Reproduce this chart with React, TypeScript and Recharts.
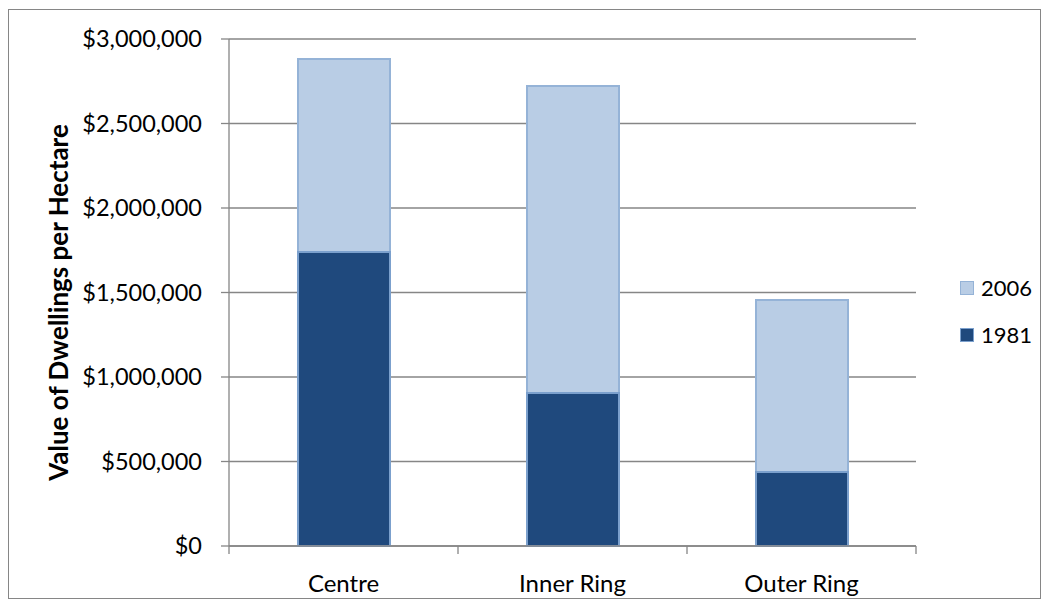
import React from 'react';
import { BarChart, Bar, XAxis, YAxis, CartesianGrid, Legend } from 'recharts';

const categories = ['Centre', 'Inner Ring', 'Outer Ring'];
const values2006 = [2882000, 2722000, 1456000];
const values1981 = [1740000, 905000, 438000];
const yTicks = [0, 500000, 1000000, 1500000, 2000000, 2500000, 3000000];

const data = categories.map((c, i) => ({ name: c, v2006: values2006[i], v1981: values1981[i] }));

const FONT = 'Lato, "Open Sans", sans-serif';
const GRID = '#868686';

const fmt = (v: number) => '$' + v.toLocaleString('en-US');

const LegendContent = () => (
  <div style={{ width: 80, fontFamily: FONT, fontSize: 22, color: '#000' }}>
    {[
      { label: '2006', fill: '#B9CDE5', stroke: '#95B3D7' },
      { label: '1981', fill: '#1F497D', stroke: '#7BA0CD' },
    ].map((it) => (
      <div key={it.label} style={{ display: 'flex', alignItems: 'center', height: 47 }}>
        <span
          style={{
            display: 'inline-block',
            width: 12,
            height: 12,
            background: it.fill,
            border: `1.5px solid ${it.stroke}`,
            marginRight: 7,
          }}
        />
        <span>{it.label}</span>
      </div>
    ))}
  </div>
);

const YLabel = (props: any) => {
  const vb = props.viewBox || {};
  const cx = (vb.x || 0) + 18;
  const cy = (vb.y || 0) + (vb.height || 0) / 2 + 10;
  return (
    <text
      transform={`translate(${cx},${cy}) rotate(-90)`}
      textAnchor="middle"
      dominantBaseline="central"
      fontFamily={FONT}
      fontSize={26}
      fontWeight="bold"
      fill="#000"
    >
      Value of Dwellings per Hectare
    </text>
  );
};

const CategoryTick = (props: any) => {
  const { x, y, payload, index, visibleTicksCount } = props;
  const half = payload && typeof payload.offset === 'number' ? payload.offset : 0;
  const isLast = index === (visibleTicksCount ?? categories.length) - 1;
  return (
    <g>
      <line x1={x - half} x2={x - half} y1={y} y2={y + 8} stroke={GRID} strokeWidth={1.3} />
      {isLast && <line x1={x + half} x2={x + half} y1={y} y2={y + 8} stroke={GRID} strokeWidth={1.3} />}
      <text
        x={x}
        y={y + 36}
        textAnchor="middle"
        dominantBaseline="central"
        fontFamily={FONT}
        fontSize={24}
        fill="#000"
      >
        {payload.value}
      </text>
    </g>
  );
};

export default function App() {
  return (
    <div style={{ position: 'absolute', left: 0, top: 0, width: 1050, height: 608, background: '#fff' }}>
      <div
        style={{
          position: 'absolute',
          left: 8,
          top: 9,
          width: 1033,
          height: 590,
          border: '1.5px solid #868686',
          boxSizing: 'border-box',
        }}
      />
      <div style={{ position: 'absolute', left: 0, top: 0 }}>
        <BarChart
          width={1050}
          height={608}
          data={data}
          margin={{ top: 39, right: 54, bottom: 0, left: 40 }}
        >
          <CartesianGrid xAxisId="a" vertical={false} stroke={GRID} strokeWidth={1.3} />
          <XAxis
            xAxisId="a"
            dataKey="name"
            stroke={GRID}
            strokeWidth={1.3}
            tickLine={false}
            tickSize={0}
            tickMargin={0}
            height={62}
            tick={<CategoryTick />}
          />
          <XAxis xAxisId="b" dataKey="name" hide />
          <YAxis
            width={189}
            domain={[0, 3000000]}
            ticks={yTicks}
            tickFormatter={fmt}
            stroke={GRID}
            strokeWidth={1.3}
            tickSize={8}
            tickMargin={19}
            tick={{ fill: '#000', fontFamily: FONT, fontSize: 23.5 }}
            label={<YLabel />}
          />
          <Legend
            layout="vertical"
            align="right"
            verticalAlign="middle"
            wrapperStyle={{ left: 960, top: 264, right: 'auto' }}
            content={<LegendContent />}
          />
          <Bar
            xAxisId="a"
            dataKey="v2006"
            name="2006"
            barSize={92}
            fill="#B9CDE5"
            stroke="#95B3D7"
            strokeWidth={2}
            isAnimationActive={false}
          />
          <Bar
            xAxisId="b"
            dataKey="v1981"
            name="1981"
            barSize={92}
            fill="#1F497D"
            stroke="#7BA0CD"
            strokeWidth={2}
            isAnimationActive={false}
          />
        </BarChart>
      </div>
    </div>
  );
}
